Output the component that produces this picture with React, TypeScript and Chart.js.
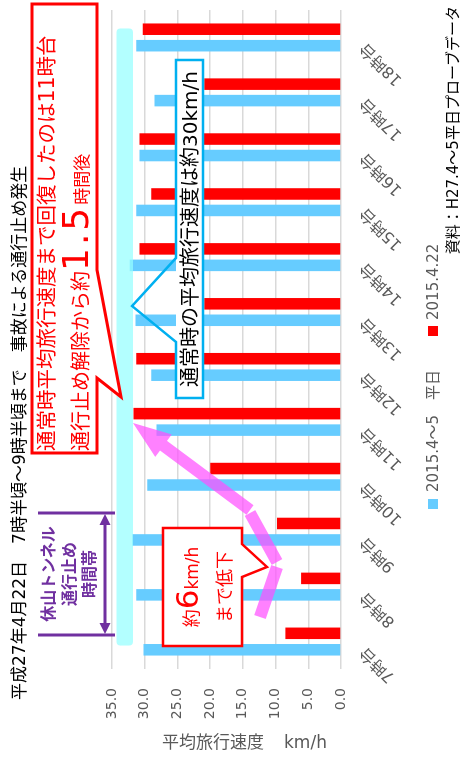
import React, { useEffect, useRef } from 'react';
import { Chart, registerables } from 'chart.js';

Chart.register(...registerables);

const FONT = '"DejaVu Sans", "Noto Sans CJK JP", sans-serif';

const categories = ['7時台', '8時台', '9時台', '10時台', '11時台', '12時台', '13時台', '14時台', '15時台', '16時台', '17時台', '18時台'];
const weekdayAvg = [30.2, 31.3, 31.9, 29.6, 28.2, 29.0, 31.4, 32.3, 31.3, 30.8, 28.5, 31.3];
const apr22 = [8.5, 6.1, 9.8, 20.0, 31.7, 31.3, 20.9, 30.8, 29.0, 30.8, 20.9, 30.3];
const seriesLabels = ['2015.4～5　平日', '2015.4.22'];
const seriesColors = ['#66CCFF', '#FF0000'];
const yMin = 0;
const yMax = 35;
const yStep = 5;

const W = 758;
const H = 461;

function poly(ctx: CanvasRenderingContext2D, pts: number[][]) {
  ctx.beginPath();
  ctx.moveTo(pts[0][0], pts[0][1]);
  for (let i = 1; i < pts.length; i++) ctx.lineTo(pts[i][0], pts[i][1]);
  ctx.closePath();
}

function seg(ctx: CanvasRenderingContext2D, x1: number, y1: number, x2: number, y2: number, w: number) {
  const dx = x2 - x1, dy = y2 - y1, L = Math.hypot(dx, dy);
  const nx = (-dy / L) * w / 2, ny = (dx / L) * w / 2;
  poly(ctx, [[x1 + nx, y1 + ny], [x2 + nx, y2 + ny], [x2 - nx, y2 - ny], [x1 - nx, y1 - ny]]);
  ctx.fill();
}

function arrowSeg(ctx: CanvasRenderingContext2D, x1: number, y1: number, x2: number, y2: number, w: number, hl: number, hw: number) {
  const dx = x2 - x1, dy = y2 - y1, L = Math.hypot(dx, dy);
  const ux = dx / L, uy = dy / L, px = -uy, py = ux;
  const bx = x2 - ux * hl, by = y2 - uy * hl;
  poly(ctx, [
    [x1 + px * w / 2, y1 + py * w / 2],
    [bx + px * w / 2, by + py * w / 2],
    [bx + px * hw, by + py * hw],
    [x2, y2],
    [bx - px * hw, by - py * hw],
    [bx - px * w / 2, by - py * w / 2],
    [x1 - px * w / 2, y1 - py * w / 2],
  ]);
  ctx.fill();
}

const annotationPlugin = {
  id: 'annotations',
  afterDatasetsDraw(chart: any) {
    const ctx: CanvasRenderingContext2D = chart.ctx;
    const xs = chart.scales.x;
    const ys = chart.scales.y;
    ctx.save();
    // normal-speed band
    const bx0 = xs.getPixelForValue(0) - 4;
    const bx1 = xs.getPixelForValue(11) + 9;
    const by0 = ys.getPixelForValue(34.3);
    const by1 = ys.getPixelForValue(31.8);
    ctx.fillStyle = 'rgba(150,255,255,0.72)';
    ctx.beginPath();
    (ctx as any).roundRect(bx0, by0, bx1 - bx0, by1 - by0, 4);
    ctx.fill();

    // pink recovery arrows
    ctx.fillStyle = 'rgba(255,80,255,0.72)';
    seg(ctx, 141, 260, 191, 277, 12);
    seg(ctx, 196, 277, 245, 250, 12);
    arrowSeg(ctx, 248, 250, 335, 133, 12, 38, 14);

    // purple closure bracket
    ctx.strokeStyle = '#7030A0';
    ctx.fillStyle = '#7030A0';
    ctx.lineWidth = 3;
    ctx.beginPath();
    ctx.moveTo(123, 38); ctx.lineTo(123, 115);
    ctx.moveTo(245, 38); ctx.lineTo(245, 115);
    ctx.moveTo(133, 105); ctx.lineTo(235, 105);
    ctx.stroke();
    poly(ctx, [[124, 105], [135, 99.5], [135, 110.5]]); ctx.fill();
    poly(ctx, [[244, 105], [233, 99.5], [233, 110.5]]); ctx.fill();

    // blue callout
    ctx.fillStyle = '#ffffff';
    ctx.fillRect(360, 176, 338, 27);
    ctx.strokeStyle = '#00B0F0';
    ctx.lineWidth = 2.5;
    ctx.lineJoin = 'miter';
    poly(ctx, [[360, 176], [416, 176], [452, 132], [500, 176], [698, 176], [698, 203], [360, 203]]);
    ctx.stroke();

    // red top callout
    ctx.strokeStyle = '#FF0000';
    ctx.lineWidth = 3;
    poly(ctx, [[305, 32], [754, 32], [754, 97], [488, 97], [361, 121], [380, 97], [305, 97]]);
    ctx.fillStyle = '#ffffff';
    ctx.fill();
    ctx.stroke();

    // red bottom callout
    ctx.lineWidth = 2.5;
    poly(ctx, [[112, 163], [230, 163], [230, 242], [214, 242], [191, 267], [181, 242], [112, 242]]);
    ctx.fill();
    ctx.stroke();
    ctx.restore();
  },
};

export default function App() {
  const canvasRef = useRef<HTMLCanvasElement | null>(null);

  useEffect(() => {
    if (!canvasRef.current) return;
    Chart.defaults.font.family = FONT;
    const chart = new Chart(canvasRef.current, {
      type: 'bar',
      data: {
        labels: categories,
        datasets: [
          { label: seriesLabels[0], data: weekdayAvg, backgroundColor: seriesColors[0], borderWidth: 0, categoryPercentage: 0.6, barPercentage: 0.7 },
          { label: seriesLabels[1], data: apr22, backgroundColor: seriesColors[1], borderWidth: 0, categoryPercentage: 0.6, barPercentage: 0.7 },
        ],
      },
      options: {
        responsive: false,
        animation: false,
        events: [],
        layout: { padding: { top: 112, right: 10, bottom: 0, left: 0 } },
        plugins: { legend: { display: false }, title: { display: false }, tooltip: { enabled: false } },
        scales: {
          x: {
            grid: { display: false, drawTicks: false },
            border: { display: false },
            ticks: {
              autoSkip: false,
              minRotation: 45,
              maxRotation: 45,
              padding: 15,
              labelOffset: -8,
              color: '#595959',
              font: { size: 16, family: FONT },
            },
            afterFit: (s: any) => { s.height = 120; },
          },
          y: {
            min: yMin,
            max: yMax,
            grid: { color: '#d9d9d9', lineWidth: 1.5, drawTicks: false },
            border: { display: false },
            ticks: {
              stepSize: yStep,
              padding: 19,
              color: '#595959',
              font: { size: 14, family: FONT },
              callback: (v: any) => Number(v).toFixed(1),
            },
            afterFit: (s: any) => { s.width = 89; },
          },
        },
      },
      plugins: [annotationPlugin],
    } as any);
    return () => chart.destroy();
  }, []);

  const abs = (o: React.CSSProperties): React.CSSProperties => ({ position: 'absolute', whiteSpace: 'nowrap', fontFamily: FONT, ...o });

  return (
    <div style={{ position: 'absolute', left: 0, top: 0, width: 461, height: 758, overflow: 'hidden', background: '#ffffff' }}>
      <div style={{ position: 'absolute', left: 0, top: 0, width: W, height: H, transformOrigin: '0 0', transform: `translate(0px, ${W}px) rotate(-90deg)` }}>
        <canvas ref={canvasRef} width={W} height={H} style={{ width: W, height: H, display: 'block' }} />
        <div style={abs({ left: 58, top: 10, fontSize: 17, lineHeight: '18px', color: '#000' })}>
          平成27年4月22日　7時半頃～9時半頃まで　事故による通行止め発生
        </div>
        <div style={abs({ left: 307, top: 37, fontSize: 20.5, lineHeight: '21px', color: '#FF0000' })}>
          通常時平均旅行速度まで回復したのは11時台
        </div>
        <div style={abs({ left: 307, top: 58, display: 'flex', alignItems: 'baseline', color: '#FF0000', lineHeight: 1 })}>
          <span style={{ fontSize: 20 }}>通行止め解除から約</span>
          <span style={{ fontSize: 36, letterSpacing: 3 }}>1.5</span>
          <span style={{ fontSize: 17 }}>時間後</span>
        </div>
        <div style={abs({ left: 360, top: 176, width: 338, height: 27, display: 'flex', alignItems: 'center', justifyContent: 'center', fontSize: 20, lineHeight: 1, color: '#000' })}>
          通常時の平均旅行速度は約30km/h
        </div>
        <div style={abs({ left: 112, top: 172, width: 118, display: 'flex', alignItems: 'baseline', justifyContent: 'center', color: '#FF0000', lineHeight: 1 })}>
          <span style={{ fontSize: 18 }}>約</span>
          <span style={{ fontSize: 31 }}>6</span>
          <span style={{ fontSize: 17 }}>km/h</span>
        </div>
        <div style={abs({ left: 112, top: 216, width: 118, textAlign: 'center', fontSize: 18, lineHeight: 1, color: '#FF0000' })}>
          まで低下
        </div>
        <div style={abs({ left: 123, top: 39, width: 122, textAlign: 'center', fontSize: 16, fontWeight: 'bold', lineHeight: '20.5px', color: '#7030A0', whiteSpace: 'normal' })}>
          <div>休山トンネル</div>
          <div>通行止め</div>
          <div>時間帯</div>
        </div>
        <div style={abs({ left: 249, top: 428, width: 10, height: 10, background: seriesColors[0] })} />
        <div style={abs({ left: 266, top: 424, fontSize: 15, lineHeight: '18px', color: '#595959' })}>{seriesLabels[0]}</div>
        <div style={abs({ left: 422, top: 428, width: 10, height: 10, background: seriesColors[1] })} />
        <div style={abs({ left: 438, top: 424, fontSize: 15, lineHeight: '18px', color: '#595959' })}>{seriesLabels[1]}</div>
        <div style={abs({ right: 6, top: 445, fontSize: 15, lineHeight: '16px', color: '#000' })}>資料：H27.4～5平日プローブデータ</div>
      </div>
      <div style={abs({ left: 162, top: 733, fontSize: 17, lineHeight: '18px', color: '#595959' })}>
        平均旅行速度<span style={{ marginLeft: 20 }}>km/h</span>
      </div>
    </div>
  );
}
